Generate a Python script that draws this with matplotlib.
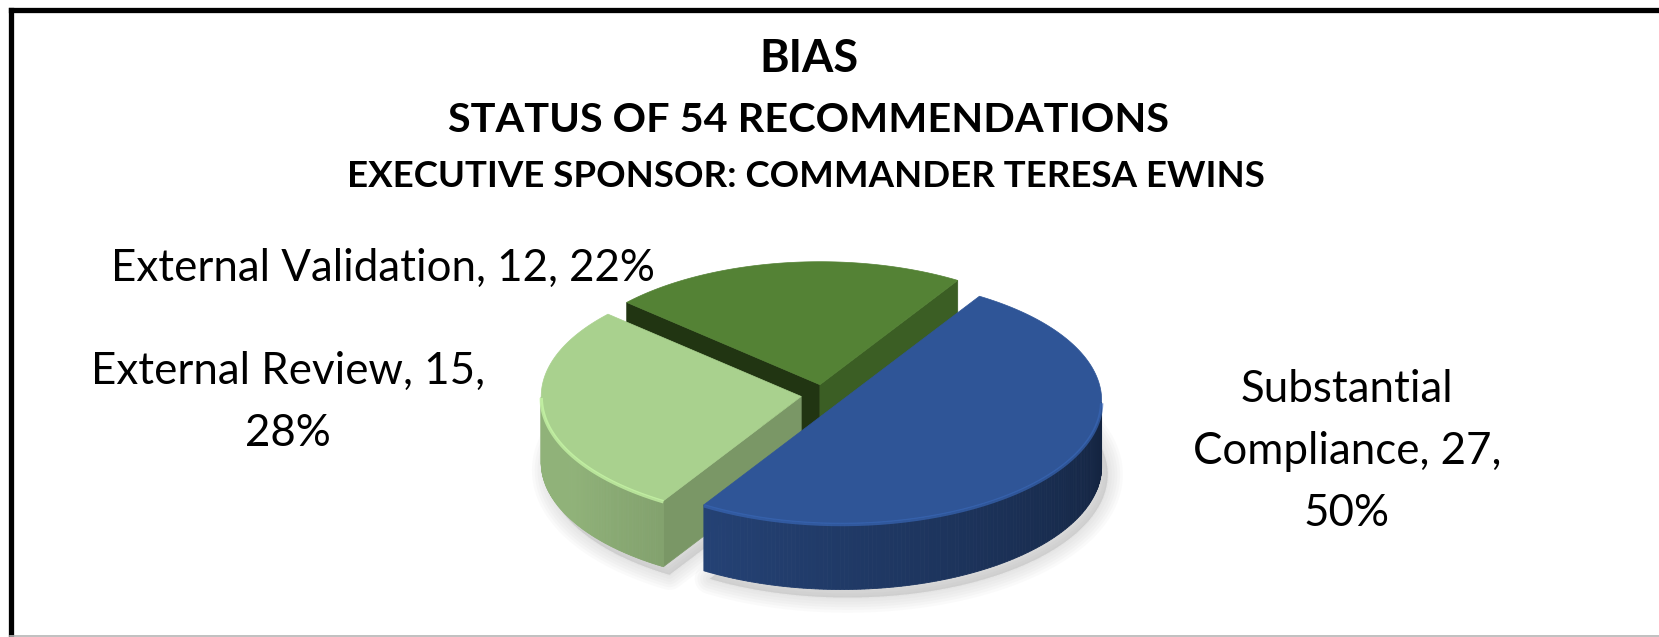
import textwrap
import numpy as np
import matplotlib.pyplot as plt
from matplotlib.patches import Polygon
from matplotlib.colors import to_rgb

plt.rcParams['font.family'] = ['Lato', 'DejaVu Sans']

# data
labels = ['Substantial Compliance', 'External Review', 'External Validation']
counts = [27, 15, 12]
wrap_widths = [16, 20, 40]
top_colors = ['#2F5597', '#A9D18E', '#548235']
start_face_colors = ['#1a2d55', '#7a9766', '#213512']
end_face_colors = ['#1a2d55', '#6f8a5c', '#3b5e24']
title_lines = ['BIAS',
               'STATUS OF %d RECOMMENDATIONS' % sum(counts),
               'EXECUTIVE SPONSOR: COMMANDER TERESA EWINS']

W, H = 1659, 637
CX, CY = 823, 395      # pie centre in pixels
R, K = 260, 0.473      # radius, vertical squash
DEPTH = 66             # thickness of the pie
START = 32             # first slice starts here (deg clockwise from 12 o'clock)
EXPLODE = 22


def pt(cx, cy, phi, dz=0):
    a = np.radians(phi)
    return cx + R * np.sin(a), cy - R * K * np.cos(a) + dz


def shade(rgb, f):
    return tuple(min(1, c * f) for c in rgb)


fig = plt.figure(figsize=(W / 100, H / 100), dpi=100)
ax = fig.add_axes([0, 0, 1, 1])
ax.set_xlim(0, W)
ax.set_ylim(H, 0)
ax.axis('off')

total = sum(counts)
bounds = START + 360 * np.concatenate([[0], np.cumsum(counts)]) / total
slices = []
for i in range(len(counts)):
    a0, a1 = bounds[i], bounds[i + 1]
    mid = (a0 + a1) / 2
    cx = CX + EXPLODE * np.sin(np.radians(mid))
    cy = CY - EXPLODE * K * np.cos(np.radians(mid))
    slices.append((i, a0, a1, mid, cx, cy))

# soft shadow under the pie
for i, a0, a1, mid, cx, cy in slices:
    arc = np.linspace(a0, a1, 80)
    pts = [(cx + 6, cy + DEPTH + 8)] + [pt(cx + 6, cy + 8, p, DEPTH) for p in arc]
    for j in range(6):
        ax.add_patch(Polygon(pts, closed=True, facecolor='#808080', edgecolor='#808080',
                             lw=2 + j * 4, alpha=0.035, joinstyle='round'))

# back to front
for i, a0, a1, mid, cx, cy in sorted(slices, key=lambda s: -np.cos(np.radians(s[3]))):
    rgb = to_rgb(top_colors[i])
    # radial faces that face the viewer
    for a, col, vis in [(a0, start_face_colors[i], np.cos(np.radians(a0 - 90)) < 0),
                        (a1, end_face_colors[i], np.cos(np.radians(a1 + 90)) < 0)]:
        if vis:
            face = [(cx, cy), pt(cx, cy, a), pt(cx, cy, a, DEPTH), (cx, cy + DEPTH)]
            ax.add_patch(Polygon(face, closed=True, facecolor=col, edgecolor=col, lw=0.5))
    # outer wall (front half only)
    arc = np.linspace(a0, a1, 200)
    front = arc[np.cos(np.radians(arc)) < 0]
    for p, q in zip(front[:-1], front[1:]):
        f = 0.40 + 0.45 * np.clip(((p % 360) - 90) / 150, 0, 1) ** 0.9
        c = shade(rgb, f)
        quad = [pt(cx, cy, p), pt(cx, cy, q), pt(cx, cy, q, DEPTH), pt(cx, cy, p, DEPTH)]
        ax.add_patch(Polygon(quad, closed=True, facecolor=c, edgecolor=c, lw=0.6))
    # top surface
    top = [(cx, cy)] + [pt(cx, cy, p) for p in arc]
    ax.add_patch(Polygon(top, closed=True, facecolor=rgb, edgecolor=rgb, lw=0.5))
    # bevel highlight on the front rim
    if len(front) > 1:
        rim = np.array([pt(cx, cy, p, 1) for p in front])
        ax.plot(rim[:, 0], rim[:, 1], color=shade(rgb, 1.2), lw=2.5, alpha=0.7,
                solid_capstyle='butt')

# frame
ax.plot([10.5, W], [9.5, 9.5], color='black', lw=3.8, solid_capstyle='projecting')
ax.plot([10.5, 10.5], [9.5, H], color='black', lw=3.8, solid_capstyle='projecting')
ax.plot([10, W], [636, 636], color='#b5b5b5', lw=1.2)

renderer = fig.canvas.get_renderer()


def fit_text(s, x, y, width, **kw):
    t = ax.text(x, y, s, ha='center', va='baseline', fontsize=20, **kw)
    bb = t.get_window_extent(renderer)
    t.set_fontsize(20 * width / bb.width)
    return t


# titles
title_x = [809, 808, 806]
title_y = [72, 132, 187]
title_w = [99, 719, 919]
for s, x, y, w in zip(title_lines, title_x, title_y, title_w):
    fit_text(s, x, y, w, fontweight='bold', color='black')

# data labels
pcts = [round(100 * c / total) for c in counts]
label_x = [1347, 288, 383]
label_y = [402, 384, 281]
probe = fit_text('%s, %d, %d%%' % (labels[2], counts[2], pcts[2]), -2000, 0, 545)
lab_size = probe.get_fontsize()
probe.remove()
for i in range(len(labels)):
    txt = '%s, %d, %d%%' % (labels[i], counts[i], pcts[i])
    lines = textwrap.wrap(txt, wrap_widths[i])
    for j, line in enumerate(lines):
        ax.text(label_x[i], label_y[i] + 62 * j, line, ha='center', va='baseline',
                fontsize=lab_size, color='black')

fig.savefig('out.png', dpi=100, facecolor='white')
